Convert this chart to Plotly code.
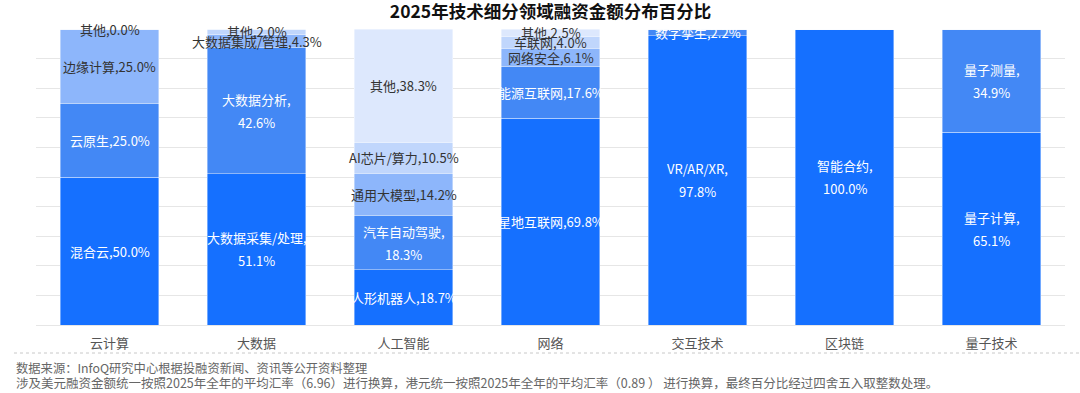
import plotly.graph_objects as go

categories = ["云计算", "大数据", "人工智能", "网络", "交互技术", "区块链", "量子技术"]

level1_names = ["混合云", "大数据采集/处理", "人形机器人", "星地互联网", "VR/AR/XR", "智能合约", "量子计算"]
level1_values = [50.0, 51.1, 18.7, 69.8, 97.8, 100.0, 65.1]

level2_names = ["云原生", "大数据分析", "汽车自动驾驶", "能源互联网", "数字孪生", None, "量子测量"]
level2_values = [25.0, 42.6, 18.3, 17.6, 2.2, None, 34.9]

level3_names = ["边缘计算", "大数据集成/管理", "通用大模型", "网络安全", None, None, None]
level3_values = [25.0, 4.3, 14.2, 6.1, None, None, None]

level4_names = ["其他", "其他", "AI芯片/算力", "车联网", None, None, None]
level4_values = [0.0, 2.0, 10.5, 4.0, None, None, None]

level5_names = [None, None, "其他", "其他", None, None, None]
level5_values = [None, None, 38.3, 2.5, None, None, None]

# labels drawn on two lines
wrapped = {"大数据分析", "大数据采集/处理", "汽车自动驾驶", "VR/AR/XR", "智能合约", "量子测量", "量子计算"}

title_text = "2025年技术细分领域融资金额分布百分比"
note_lines = [
    "数据来源：InfoQ研究中心根据投融资新闻、资讯等公开资料整理",
    "涉及美元融资金额统一按照2025年全年的平均汇率（6.96）进行换算，港元统一按照2025年全年的平均汇率（0.89 ） 进行换算，最终百分比经过四舍五入取整数处理。",
]

levels = [
    (level1_names, level1_values, "#1570FF", "white"),
    (level2_names, level2_values, "#4388F5", "white"),
    (level3_names, level3_values, "#8DB6FB", "#333333"),
    (level4_names, level4_values, "#C0D6FC", "#333333"),
    (level5_names, level5_values, "#DDE8FD", "#333333"),
]

FONT = "Noto Sans CJK SC"
fig = go.Figure()
annotations = []
base = [0.0] * len(categories)
for names, values, color, tcolor in levels:
    ys = [v if v is not None else 0 for v in values]
    fig.add_trace(go.Bar(
        x=categories, y=ys,
        marker=dict(color=color, line=dict(color="rgba(255,255,255,0.5)", width=0.8)),
        hoverinfo="skip", showlegend=False,
    ))
    for i, (n, v) in enumerate(zip(names, values)):
        if n is None:
            continue
        mid = base[i] + v / 2
        if n in wrapped:
            parts = [(f"{n},", 11.5), (f"{v:.1f}%", -11.5)]
        else:
            parts = [(f"{n},{v:.1f}%", 0)]
        for t, sh in parts:
            annotations.append(dict(
                x=categories[i], y=mid, xref="x", yref="y", text=t, showarrow=False,
                yshift=sh, font=dict(family=FONT, size=13, color=tcolor),
            ))
        base[i] += v

# footer notes
annotations.append(dict(x=-0.0214, y=-0.1453, xref="paper", yref="paper", xanchor="left", yanchor="middle",
                        text=note_lines[0], showarrow=False, font=dict(family=FONT, size=12.3, color="#666666")))
annotations.append(dict(x=-0.0214, y=-0.1926, xref="paper", yref="paper", xanchor="left", yanchor="middle",
                        text=note_lines[1], showarrow=False, font=dict(family=FONT, size=12.5, color="#666666")))

fig.update_layout(
    width=1080, height=393,
    barmode="stack", bargap=0.33,
    plot_bgcolor="white", paper_bgcolor="white",
    margin=dict(l=36, r=15, t=29, b=68),
    title=dict(text=f"<b>{title_text}</b>", x=0.5, xref="paper", xanchor="center",
               y=1 - 12 / 393, yanchor="middle", font=dict(family=FONT, size=17.5, color="#111111")),
    xaxis=dict(showline=False, ticks="", tickfont=dict(family=FONT, size=13, color="#555555"),
               showgrid=False, ticklabelstandoff=9),
    yaxis=dict(range=[0, 100], dtick=10, showticklabels=False, showgrid=True, gridcolor="#E6E6E6",
               gridwidth=1, zeroline=True, zerolinecolor="#E6E6E6", zerolinewidth=1),
    annotations=annotations,
    shapes=[dict(type="line", xref="paper", yref="paper", x0=-0.0214, x1=1.0146, y0=-0.0946, y1=-0.0946,
                 line=dict(color="#C8C8C8", width=1, dash="dot"))],
)

fig.write_html("out.html", config={"displayModeBar": False},
               post_script="document.body.style.margin='0';document.body.style.padding='0';")
